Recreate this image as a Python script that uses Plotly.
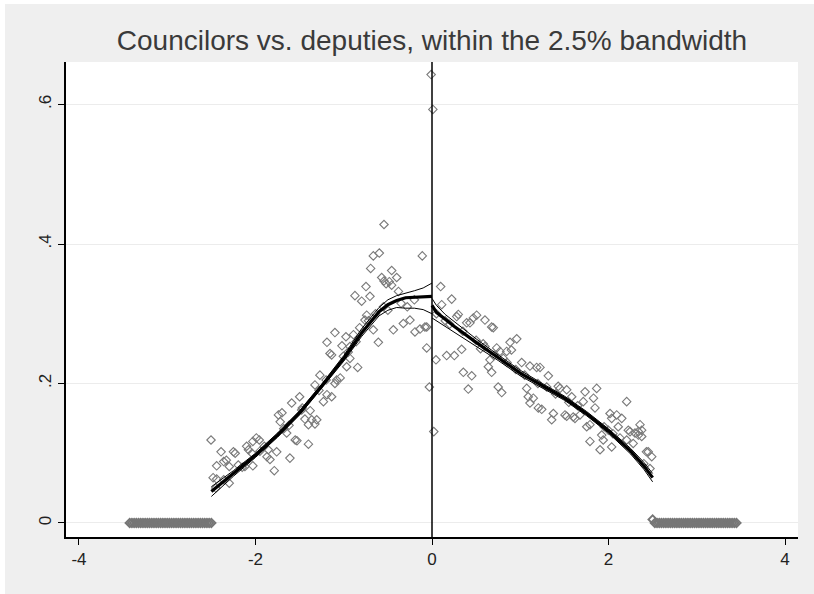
import plotly.graph_objects as go

# Binned means, left of the cutoff
left_x = [-0.544, -0.665, -0.597, -0.11, -0.695, -0.457, -0.57, -0.544, -0.484, -0.40, -0.52, -0.457,
          -0.748, -0.873, -0.797, -0.703, -0.38, -0.74, -0.76, -0.665, -0.608, -0.438,
          -0.325, -0.25, -0.193, -0.136, -0.06, -0.08, -0.06, -0.03, -0.01,
          -1.10, -1.19, -0.975, -0.89, -1.156, -1.137, -1.02, -0.93, -1.005, -0.93, -0.967, -0.842,
          -1.27, -1.08, -1.04, -1.10, -1.326, -1.19, -1.23, -1.137, -1.50, -1.59, -1.477, -1.38,
          -1.44, -1.363, -1.306, -1.326, -1.40, -1.74, -1.70, -1.72, -1.647, -1.53, -1.40, -1.55, -1.61,
          -1.99, -2.03, -1.957, -2.10, -2.08, -2.04, -1.855, -1.76, -1.87, -1.836, -1.787, -2.504,
          -2.39, -2.25, -2.23, -2.33, -2.36, -2.44, -2.297, -2.195, -2.12, -2.03, -2.48, -2.44, -2.297,
          -2.45, -2.36, -2.15, -1.95, -1.90, -1.68, -1.62, -1.47, -1.28, -1.20, -0.95, -0.86, -0.82,
          -0.72, -0.64, -0.55, -0.50, -0.35, -0.28, -0.20]
left_y = [0.428, 0.383, 0.387, 0.383, 0.365, 0.362, 0.352, 0.347, 0.346, 0.352, 0.343, 0.341,
          0.339, 0.326, 0.318, 0.325, 0.332, 0.298, 0.291, 0.277, 0.259, 0.277,
          0.286, 0.291, 0.274, 0.278, 0.281, 0.281, 0.251, 0.195, 0.643,
          0.273, 0.259, 0.267, 0.270, 0.243, 0.241, 0.254, 0.253, 0.239, 0.236, 0.224, 0.223,
          0.212, 0.205, 0.208, 0.200, 0.198, 0.184, 0.174, 0.181, 0.181, 0.172, 0.162, 0.161,
          0.149, 0.148, 0.148, 0.142, 0.141, 0.155, 0.158, 0.145, 0.129, 0.118, 0.113, 0.119, 0.093,
          0.122, 0.117, 0.119, 0.110, 0.105, 0.100, 0.105, 0.102, 0.095, 0.091, 0.075, 0.119,
          0.102, 0.102, 0.100, 0.090, 0.088, 0.082, 0.081, 0.083, 0.081, 0.082, 0.065, 0.063, 0.057,
          0.050, 0.062, 0.080, 0.103, 0.110, 0.135, 0.140, 0.165, 0.190, 0.205, 0.245, 0.260, 0.280,
          0.290, 0.300, 0.310, 0.305, 0.315, 0.310, 0.320]

# Binned means, right of the cutoff
right_x = [0.01, 0.098, 0.223, 0.11, 0.28, 0.298, 0.468, 0.506, 0.60, 0.43, 0.393, 0.676, 0.695,
           0.045, 0.02, 0.166, 0.253, 0.336, 0.58, 0.60, 0.733, 0.77, 0.884, 0.90, 0.96,
           0.846, 0.808, 0.657, 0.638, 0.676, 0.355, 0.45, 0.411, 0.75, 0.79,
           1.016, 1.11, 1.186, 1.224, 1.318, 1.073, 1.09, 1.11, 1.148, 1.205, 1.243, 1.356, 1.375,
           1.43, 1.45, 1.526, 1.583, 1.507, 1.526, 1.60, 1.62, 1.677, 1.734, 1.866, 1.83, 1.714,
           1.753, 1.79, 1.79, 1.847, 1.904, 1.94, 1.923, 2.017, 2.036, 2.093, 2.15, 2.206,
           1.998, 2.11, 2.036, 2.13, 2.224, 2.244, 2.338, 2.30, 2.357, 2.376, 2.206, 2.28, 2.338, 2.376,
           2.43, 2.45, 2.49, 2.47,
           0.05, 0.15, 0.20, 0.35, 0.50, 0.55, 0.70, 0.85, 0.95, 1.05, 1.20, 1.30, 1.40, 1.55, 1.65,
           1.95, 2.05, 2.40]
right_y = [0.593, 0.339, 0.321, 0.313, 0.296, 0.299, 0.294, 0.298, 0.291, 0.287, 0.287, 0.281, 0.280,
           0.234, 0.131, 0.240, 0.240, 0.249, 0.257, 0.253, 0.251, 0.246, 0.259, 0.248, 0.264,
           0.246, 0.236, 0.234, 0.224, 0.216, 0.216, 0.211, 0.192, 0.195, 0.187,
           0.230, 0.225, 0.223, 0.223, 0.211, 0.193, 0.181, 0.172, 0.179, 0.165, 0.163, 0.148, 0.157,
           0.196, 0.193, 0.191, 0.181, 0.155, 0.153, 0.152, 0.150, 0.155, 0.188, 0.193, 0.179, 0.174,
           0.138, 0.141, 0.117, 0.165, 0.105, 0.119, 0.126, 0.157, 0.150, 0.155, 0.150, 0.174,
           0.133, 0.138, 0.109, 0.122, 0.133, 0.131, 0.131, 0.129, 0.141, 0.133, 0.119, 0.114, 0.126, 0.124,
           0.102, 0.102, 0.095, 0.078,
           0.300, 0.290, 0.285, 0.275, 0.262, 0.250, 0.240, 0.230, 0.220, 0.212, 0.200, 0.195, 0.185,
           0.173, 0.168, 0.138, 0.128, 0.085]

# Empty bins outside the bandwidth
zero_left_x = [-3.425, -3.4, -3.375, -3.35, -3.325, -3.3, -3.275, -3.25, -3.225, -3.2, -3.175, -3.15,
               -3.125, -3.1, -3.075, -3.05, -3.025, -3.0, -2.975, -2.95, -2.925, -2.9, -2.875, -2.85,
               -2.825, -2.8, -2.775, -2.75, -2.725, -2.7, -2.675, -2.65, -2.625, -2.6, -2.575, -2.55,
               -2.525, -2.5]
zero_right_x = [2.5, 2.525, 2.55, 2.575, 2.6, 2.625, 2.65, 2.675, 2.7, 2.725, 2.75, 2.775, 2.8, 2.825,
                2.85, 2.875, 2.9, 2.925, 2.95, 2.975, 3.0, 3.025, 3.05, 3.075, 3.1, 3.125, 3.15, 3.175,
                3.2, 3.225, 3.25, 3.275, 3.3, 3.325, 3.35, 3.375, 3.4, 3.425, 3.45]
zero_left_y = [0.0] * len(zero_left_x)
zero_right_y = [0.005] + [0.0] * (len(zero_right_x) - 1)

# Local polynomial fits with confidence bands
fit_left_x = [-2.5, -2.25, -2.0, -1.75, -1.5, -1.25, -1.0, -0.8, -0.6, -0.5, -0.4, -0.3, -0.2, -0.1, 0.0]
fit_left_y = [0.045, 0.071, 0.097, 0.126, 0.158, 0.196, 0.236, 0.272, 0.303, 0.313, 0.319, 0.323, 0.324, 0.325, 0.325]
ci_left_hi = [0.052, 0.075, 0.100, 0.129, 0.161, 0.199, 0.240, 0.278, 0.309, 0.320, 0.326, 0.329, 0.333, 0.337, 0.344]
ci_left_lo = [0.038, 0.067, 0.094, 0.123, 0.155, 0.193, 0.232, 0.267, 0.297, 0.305, 0.309, 0.308, 0.308, 0.306, 0.300]

fit_right_x = [0.0, 0.05, 0.15, 0.25, 0.5, 0.75, 1.0, 1.25, 1.5, 1.75, 2.0, 2.25, 2.4, 2.5]
fit_right_y = [0.312, 0.302, 0.292, 0.282, 0.259, 0.237, 0.215, 0.197, 0.179, 0.157, 0.132, 0.103, 0.082, 0.065]
ci_right_hi = [0.322, 0.312, 0.299, 0.289, 0.264, 0.241, 0.219, 0.200, 0.182, 0.160, 0.135, 0.107, 0.087, 0.071]
ci_right_lo = [0.294, 0.290, 0.282, 0.274, 0.254, 0.233, 0.211, 0.194, 0.176, 0.154, 0.129, 0.099, 0.077, 0.059]

marker = dict(symbol="diamond-open", size=6.5, color="#7a7a7a", line=dict(width=1.1, color="#7a7a7a"))
zero_marker = dict(symbol="diamond-open", size=6.5, color="#767676", line=dict(width=1.8, color="#767676"))

fig = go.Figure()
for xs, ys in [(zero_left_x, zero_left_y), (zero_right_x, zero_right_y)]:
    fig.add_trace(go.Scatter(x=xs, y=ys, mode="markers", marker=zero_marker,
                             showlegend=False, hoverinfo="skip"))
for xs, ys in [(left_x, left_y), (right_x, right_y)]:
    fig.add_trace(go.Scatter(x=xs, y=ys, mode="markers", marker=marker,
                             showlegend=False, hoverinfo="skip"))

for xs, ys in [(fit_left_x, ci_left_hi), (fit_left_x, ci_left_lo),
               (fit_right_x, ci_right_hi), (fit_right_x, ci_right_lo)]:
    fig.add_trace(go.Scatter(x=xs, y=ys, mode="lines", line=dict(color="black", width=1),
                             showlegend=False, hoverinfo="skip"))
for xs, ys in [(fit_left_x, fit_left_y), (fit_right_x, fit_right_y)]:
    fig.add_trace(go.Scatter(x=xs, y=ys, mode="lines", line=dict(color="black", width=3.2),
                             showlegend=False, hoverinfo="skip"))

# cutoff line
fig.add_shape(type="line", x0=0, x1=0, y0=0, y1=1, xref="x", yref="paper",
              line=dict(color="black", width=1.5), layer="above")
# thin white frame on the left/top edges of the canvas
fig.add_shape(type="rect", xref="paper", yref="paper", x0=-0.1, x1=-0.0833, y0=-0.2, y1=1.2,
              fillcolor="white", line=dict(width=0), layer="below")
fig.add_shape(type="rect", xref="paper", yref="paper", x0=-0.1, x1=1.1, y0=1.1221, y1=1.2,
              fillcolor="white", line=dict(width=0), layer="below")

font = "Liberation Sans, Arial, sans-serif"
fig.update_layout(
    width=814, height=594,
    margin=dict(l=66, r=16, t=62, b=57),
    paper_bgcolor="#efefef",
    plot_bgcolor="white",
    font=dict(family=font, color="#222222", size=17),
    title=dict(text="Councilors vs. deputies, within the 2.5% bandwidth",
               x=0.5, xref="paper", xanchor="center",
               y=1 - 40 / 594, yref="container", yanchor="middle",
               font=dict(family=font, size=28, color="#3a3a3a")),
    xaxis=dict(range=[-4.147, 4.147], tickvals=[-4, -2, 0, 2, 4], ticktext=["-4", "-2", "0", "2", "4"],
               showgrid=False, zeroline=False, showline=True, linecolor="black", linewidth=1.5,
               ticks="outside", ticklen=6, tickcolor="black", tickwidth=1.2),
    yaxis=dict(range=[-0.0201, 0.661], tickvals=[0, 0.2, 0.4, 0.6], ticktext=["0", ".2", ".4", ".6"],
               tickangle=-90, showgrid=True, gridcolor="#ececec", gridwidth=1,
               zeroline=False, showline=True, linecolor="black", linewidth=1.5,
               ticks="outside", ticklen=6, tickcolor="black", tickwidth=1.2),
)

fig.write_html("out.html")
